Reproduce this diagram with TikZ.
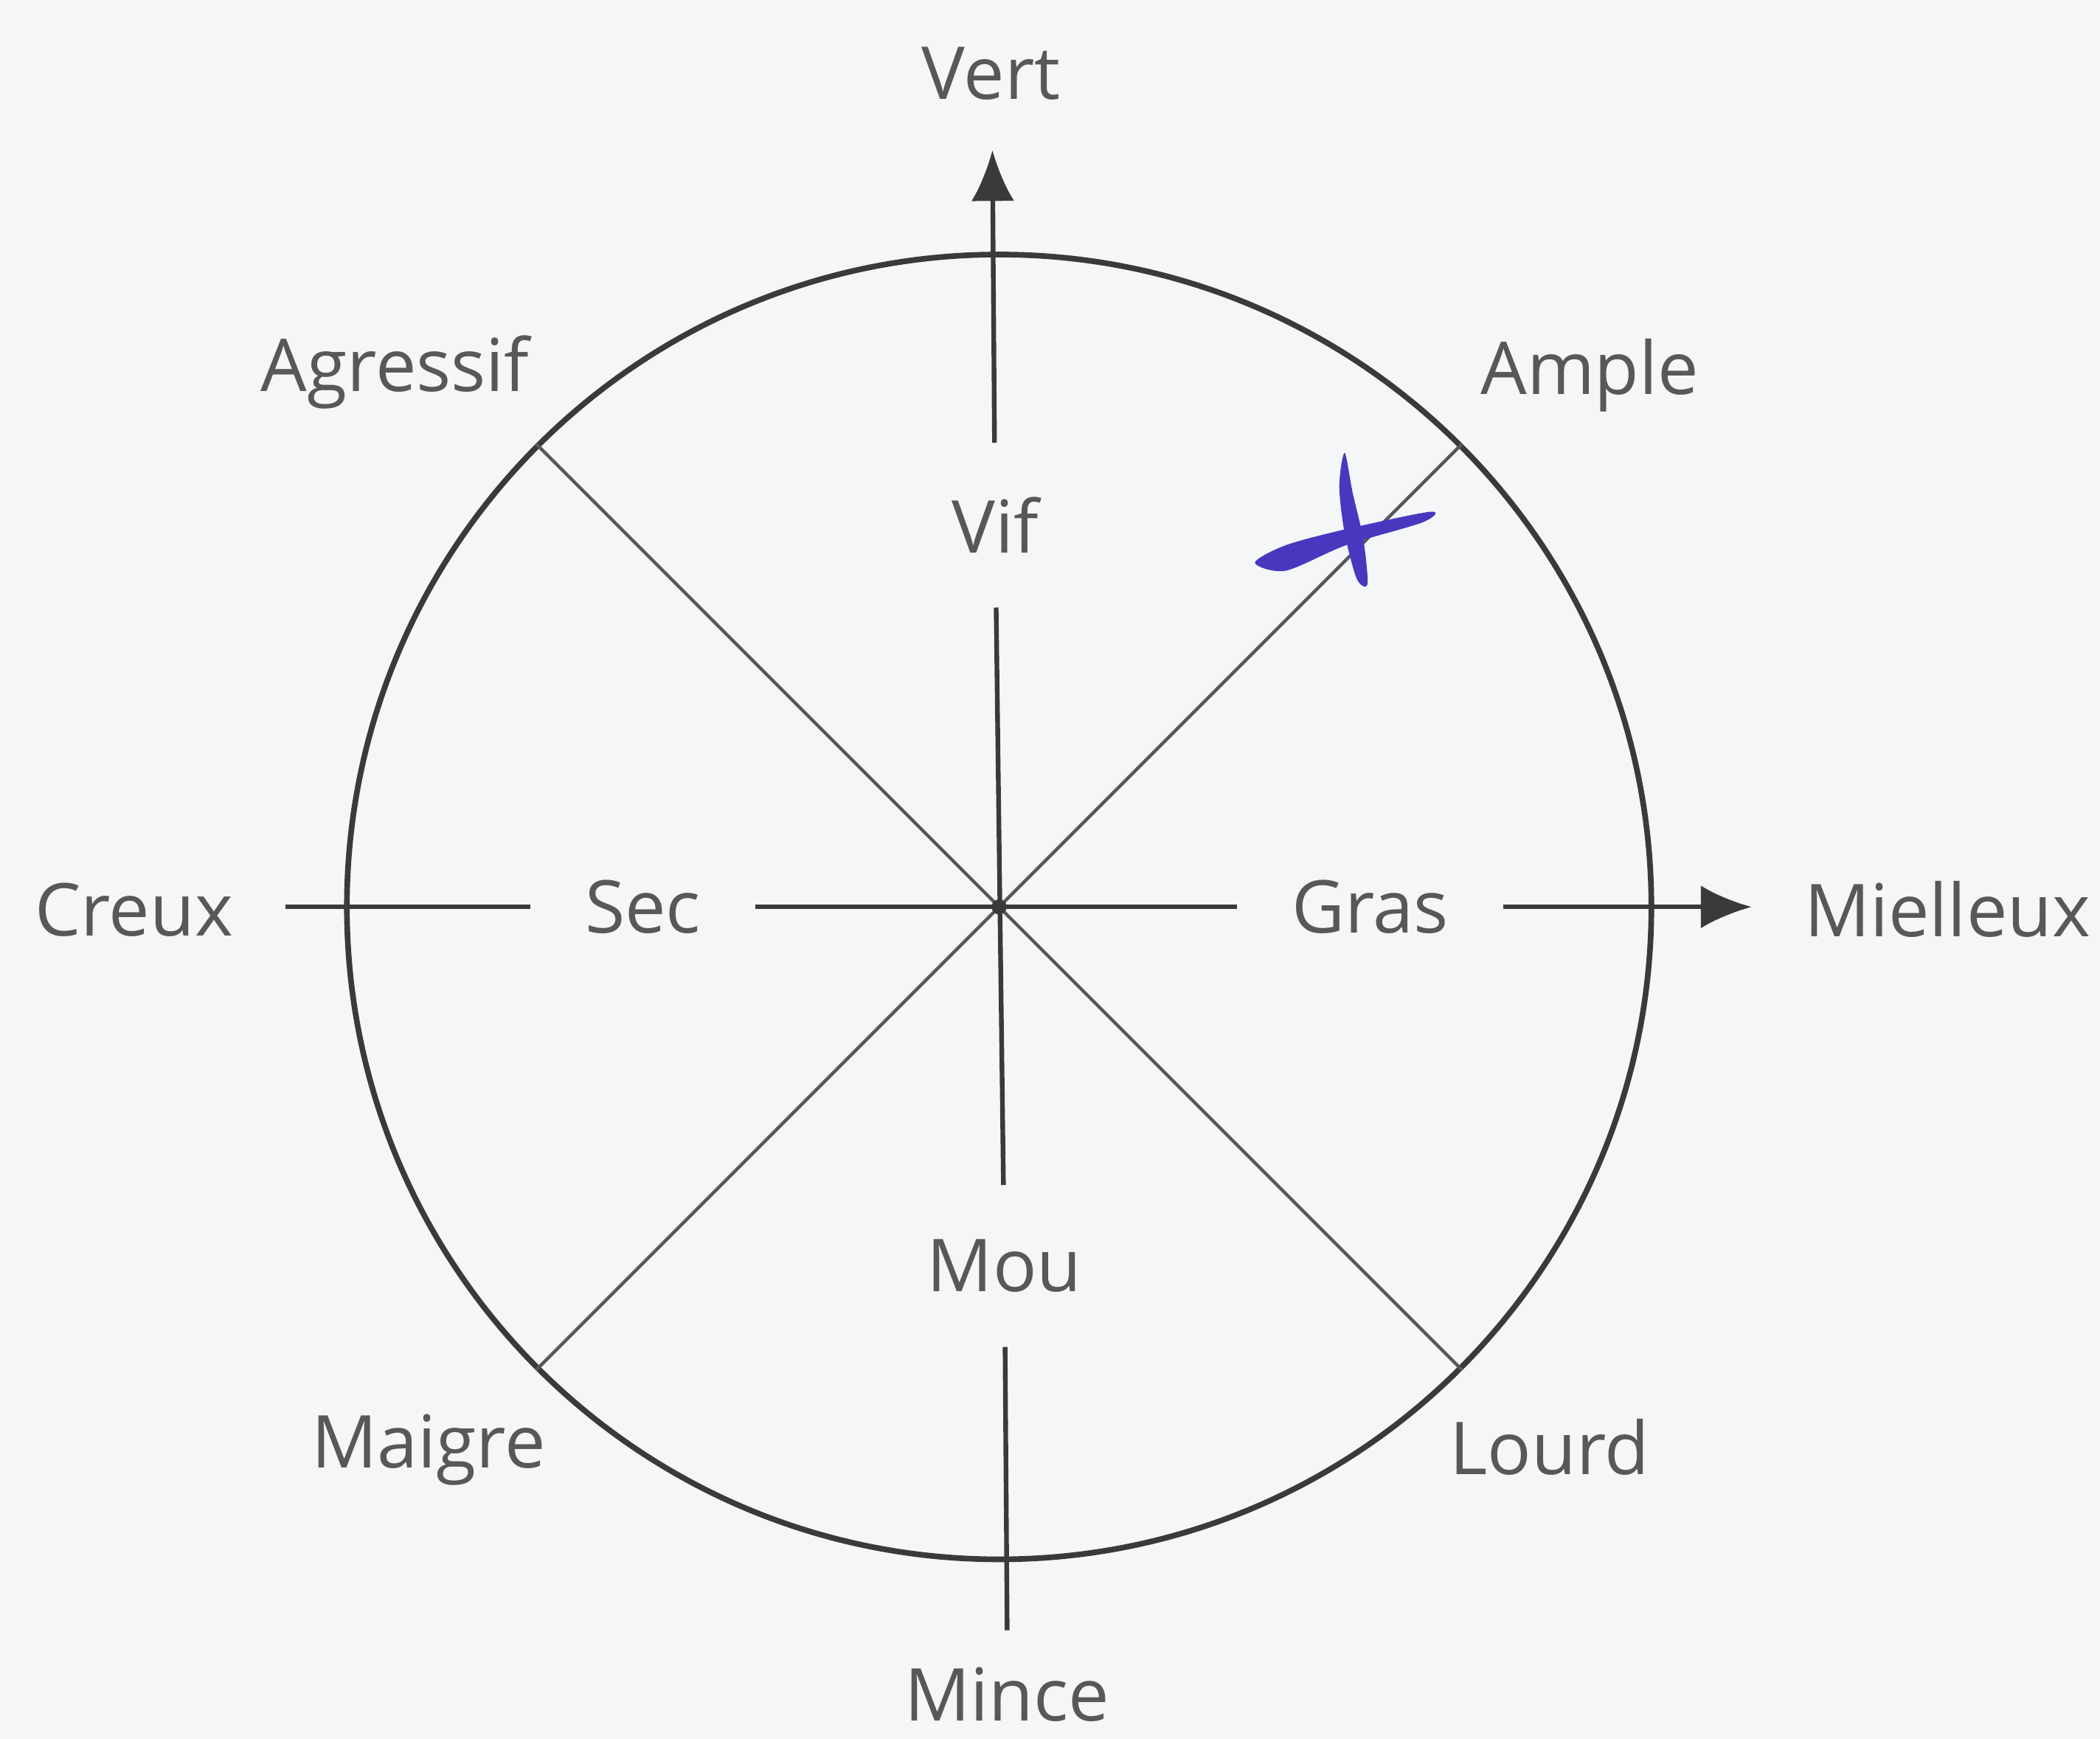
\documentclass[tikz,border=0pt]{standalone}
\usepackage{fontspec}
\setmainfont{Open Sans}
\usetikzlibrary{arrows.meta}
\definecolor{paper}{RGB}{244,246,248}
\definecolor{ink}{RGB}{58,58,58}
\definecolor{txt}{RGB}{88,88,88}
\definecolor{pen}{RGB}{72,56,192}
\begin{document}
\begin{tikzpicture}[
  lbl/.style={text=txt, font=\fontsize{15.5}{18}\selectfont, inner sep=0pt},
  gaplbl/.style={lbl, inner sep=0.4cm},
  axis/.style={ink, line width=1pt},
  diag/.style={ink!85, line width=0.7pt},
  tip/.style={-{Latex[length=3.8mm, width=3.2mm]}}
]
  \path[use as bounding box, fill=paper] (0,0) rectangle (15.68,12.98);
  \coordinate (c) at (7.46,6.21);
  \node[circle, draw=ink, line width=1.2pt, minimum size=9.74cm, inner sep=0pt] (ring) at (c) {};
  \coordinate (vtip) at (7.41,11.86);
  \coordinate (vbot) at (7.52,0.81);
  \coordinate (hleft) at (2.13,6.21);
  \coordinate (htip) at (13.08,6.21);
  \node[gaplbl] (vif) at (7.43,9.06) {Vif};
  \node[gaplbl] (mou) at (7.50,3.53) {Mou};
  \node[gaplbl] (sec) at (4.80,6.21) {Sec};
  \node[gaplbl] (gras) at (10.23,6.21) {Gras};
  \node[lbl] (vert) at (7.40,12.43) {Vert};
  \node[lbl] (mince) at (7.52,0.33) {Mince};
  \node[lbl] (creux) at (1.00,6.19) {Creux};
  \node[lbl] (mielleux) at (14.54,6.19) {Mielleux};
  \node[lbl] (agressif) at (2.95,10.20) {Agressif};
  \node[lbl] (ample) at (11.87,10.18) {Ample};
  \node[lbl] (maigre) at (3.20,2.16) {Maigre};
  \node[lbl] (lourd) at (11.57,2.18) {Lourd};
  \draw[diag] (ring.135) -- (ring.-45);
  \draw[diag] (ring.45) -- (ring.-135);
  \draw[axis, tip] (vif) -- (vtip);
  \draw[axis] (mou) -- (vif);
  \draw[axis] (vbot) -- (mou);
  \draw[axis] (hleft) -- (sec);
  \draw[axis] (sec) -- (gras);
  \draw[axis, tip] (gras) -- (htip);
  \fill[ink] (c) circle (1.6pt);
  \fill[pen] plot[smooth cycle] coordinates {(10.04,9.60) (10.10,9.30) (10.18,8.95) (10.21,8.62) (10.13,8.66) (10.04,9.00) (10.00,9.35)};
  \fill[pen] plot[smooth cycle] coordinates {(9.37,8.78) (9.60,8.91) (10.05,9.03) (10.68,9.16) (10.62,9.08) (10.05,8.91) (9.60,8.72)};
\end{tikzpicture}
\end{document}
